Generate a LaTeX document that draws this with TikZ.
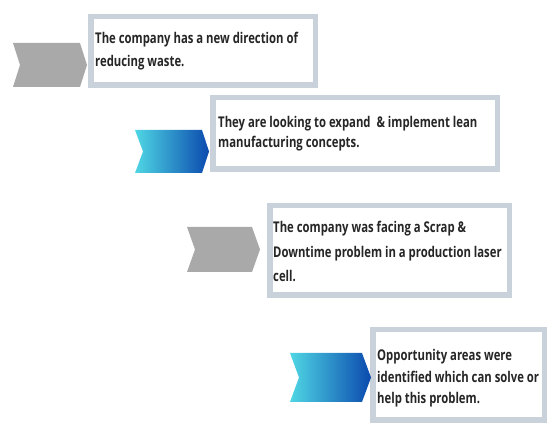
\documentclass[tikz,border=0pt]{standalone}
\usepackage{fontspec}
\setmainfont{Open Sans}[FakeStretch=0.765]
\definecolor{framegray}{HTML}{C9D1DA}
\definecolor{chevgray}{HTML}{A9A9A9}
\definecolor{chevcyan}{HTML}{4FD6E4}
\definecolor{chevblue}{HTML}{0B4AAE}
\definecolor{textdark}{HTML}{262626}
\tikzset{
  framebox/.style={draw=framegray, line width=5.5pt, fill=white, inner sep=0pt},
  % anchored at the baseline of the last line; #1 is the line spacing
  boxtext/.style={anchor=base west, align=left, inner sep=0pt, text=textdark,
    font=\fontsize{14.8}{#1}\selectfont\bfseries},
  graychev/.style={fill=chevgray},
  bluechev/.style={left color=chevcyan, right color=chevblue, shading angle=90}
}
\begin{document}
\begin{tikzpicture}[x=1pt,y=-1pt]
\useasboundingbox (0,0) rectangle (560,427);

% text frames (outer edge given, border drawn centred on the path)
\node[framebox, minimum width=224.5pt, minimum height=68.5pt] (f1) at (203,51) {};
\node[framebox, minimum width=284.5pt, minimum height=71.5pt] (f2) at (355,133.5) {};
\node[framebox, minimum width=239.5pt, minimum height=89.5pt] (f3) at (389.5,250.5) {};
\node[framebox, minimum width=171.5pt, minimum height=90.5pt] (f4) at (458.5,375) {};

% chevrons
\path[graychev] (13,43) -- (80,43) -- (87,65) -- (80,87) -- (13,87) -- (20,65) -- cycle;
\shade[bluechev] (135,130) -- (202,130) -- (209,151.5) -- (202,173) -- (135,173) -- (143,151.5) -- cycle;
\path[graychev] (187,227) -- (252,227) -- (260,249.5) -- (252,272) -- (187,272) -- (195,249.5) -- cycle;
\shade[bluechev] (290,353) -- (362,353) -- (371,377.5) -- (362,402) -- (290,402) -- (299,377.5) -- cycle;

% texts
\node[boxtext=23.4pt] (t1) at (95,66.7) {The company has a new direction of\\reducing waste.};
\node[boxtext=20.5pt] (t2) at (218,147.7) {They are looking to expand \ \& implement lean\\manufacturing concepts.};
\node[boxtext=24.5pt] (t3) at (273,281.7) {The company was facing a Scrap \&\\Downtime problem in a production laser\\cell.};
\node[boxtext=21.4pt] (t4) at (377,403.5) {Opportunity areas were\\identified which can solve or\\help this problem.};
\end{tikzpicture}
\end{document}
